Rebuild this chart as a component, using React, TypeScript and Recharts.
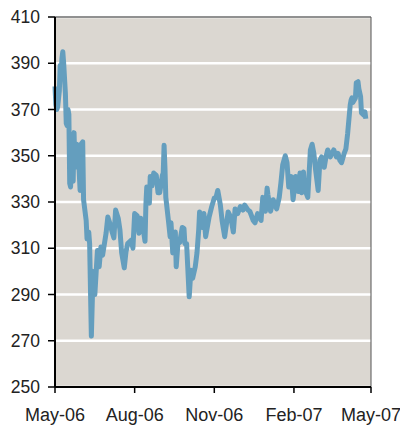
import React from "react";
import {
    LineChart,
    Line,
    XAxis,
    YAxis,
    CartesianGrid,
    ReferenceLine,
} from "recharts";

// days since 1 May 2006
const days = [
    0, 1, 2, 3, 5, 6, 7, 8, 9, 10, 12, 13, 14, 15, 16, 17, 18, 20, 21, 22, 23, 25, 27, 29, 30,
    32, 33, 36, 37, 39, 40, 42, 44, 46, 49, 51, 53, 55, 59, 61, 64, 66, 68, 70, 73, 75, 77,
    80, 82, 84, 88, 90, 92, 95, 97, 99, 102, 104, 105, 106, 109, 110, 112, 114, 117, 119,
    121, 124, 125, 126, 127, 128, 131, 133, 134, 136, 139, 140, 142, 144, 147, 149, 150,
    152, 155, 157, 159, 162, 164, 166, 167, 170, 172, 174, 178, 181, 184, 186, 188, 191,
    193, 196, 200, 203, 206, 208, 211, 214, 217, 219, 223, 225, 229, 231, 234, 238, 240,
    243, 245, 246, 249, 252, 256, 259, 261, 263, 266, 268, 270, 273, 275, 278, 281, 283,
    285, 287, 288, 292, 295, 297, 299, 301, 304, 306, 308, 311, 313, 315, 318, 320, 322,
    325, 327, 329, 331, 334, 336, 338, 341, 342, 343, 344, 347, 348, 350, 351, 353, 354,
    357, 358, 359, 362, 364,
];

const prices = [
    380, 372, 370, 371, 378, 389, 384, 392, 395, 390, 377, 364, 363, 370, 368, 338, 336.5,
    359, 339, 360, 345, 355, 350, 335, 355, 356, 331, 322, 314, 317, 312, 272, 300, 290,
    309, 302, 310.5, 307, 316.5, 323.5, 320, 317, 314.5, 326.5, 323, 318, 308, 301.5,
    308.5, 312, 313.5, 310, 325, 324, 316.5, 323, 318, 313, 329, 336.5, 329.5, 341, 337,
    342.5, 341.5, 334, 334, 341.5, 342.5, 354.5, 345, 332, 322, 315, 321, 308, 317, 302,
    312, 312.5, 319, 318.5, 312, 312, 289, 300.5, 297, 302, 308, 318, 325.7, 319, 325, 315,
    323.5, 328, 331.7, 332, 335, 328.7, 322, 315, 325.7, 323.5, 317, 327, 325, 328, 326.5,
    328.7, 326.5, 326, 322, 321, 325, 322, 332, 326, 336, 333, 326, 331, 327, 332, 338.5,
    346, 350, 347, 336.5, 341, 331, 341, 334.5, 342.5, 334, 343, 336, 332, 352.5, 355,
    351, 344, 335, 348, 349.5, 345, 349.5, 352.5, 349.5, 351, 352.5, 349.5, 351, 348,
    347, 351, 353, 359.5, 372, 374, 375, 373, 375, 381.5, 382, 379, 375.5, 368.5, 367.5,
    369, 366,
];

const tickDays = [0, 92, 184, 276, 365];
const tickLabels = ["May-06", "Aug-06", "Nov-06", "Feb-07", "May-07"];
const yTicks = [250, 270, 290, 310, 330, 350, 370, 390, 410];

const data = days.map((d, i) => ({ day: d, price: prices[i] }));

const FONT = "'Liberation Sans', Arial, sans-serif";

export default function App() {
    return (
        <div style={{ position: "absolute", left: 0, top: 0 }}>
            <LineChart
                width={400}
                height={427}
                data={data}
                margin={{ top: 17, right: 29, bottom: 0, left: 0 }}
            >
                <CartesianGrid
                    horizontal={true}
                    vertical={false}
                    fill="#dbd7d1"
                    stroke="#ffffff"
                    strokeWidth={2.5}
                />
                <ReferenceLine y={410} stroke="#222" strokeWidth={1} />
                <ReferenceLine x={365} stroke="#555" strokeWidth={1} />
                <XAxis
                    dataKey="day"
                    type="number"
                    domain={[0, 365]}
                    ticks={tickDays}
                    tickFormatter={(v) => tickLabels[tickDays.indexOf(v)] ?? ""}
                    height={40}
                    axisLine={{ stroke: "#000", strokeWidth: 2 }}
                    tickLine={{ stroke: "#000", strokeWidth: 1.5 }}
                    tickSize={6}
                    tickMargin={15}
                    interval={0}
                    tick={{ fill: "#222", fontSize: 18, fontFamily: FONT }}
                />
                <YAxis
                    domain={[250, 410]}
                    ticks={yTicks}
                    width={55}
                    interval={0}
                    axisLine={{ stroke: "#000", strokeWidth: 2 }}
                    tickLine={{ stroke: "#000", strokeWidth: 1.5 }}
                    tickSize={7}
                    tickMargin={8}
                    tick={{ fill: "#222", fontSize: 17.5, fontFamily: FONT }}
                />
                <Line
                    type="linear"
                    dataKey="price"
                    stroke="#649ebe"
                    strokeWidth={5}
                    strokeLinejoin="round"
                    dot={false}
                    isAnimationActive={false}
                />
            </LineChart>
        </div>
    );
}
